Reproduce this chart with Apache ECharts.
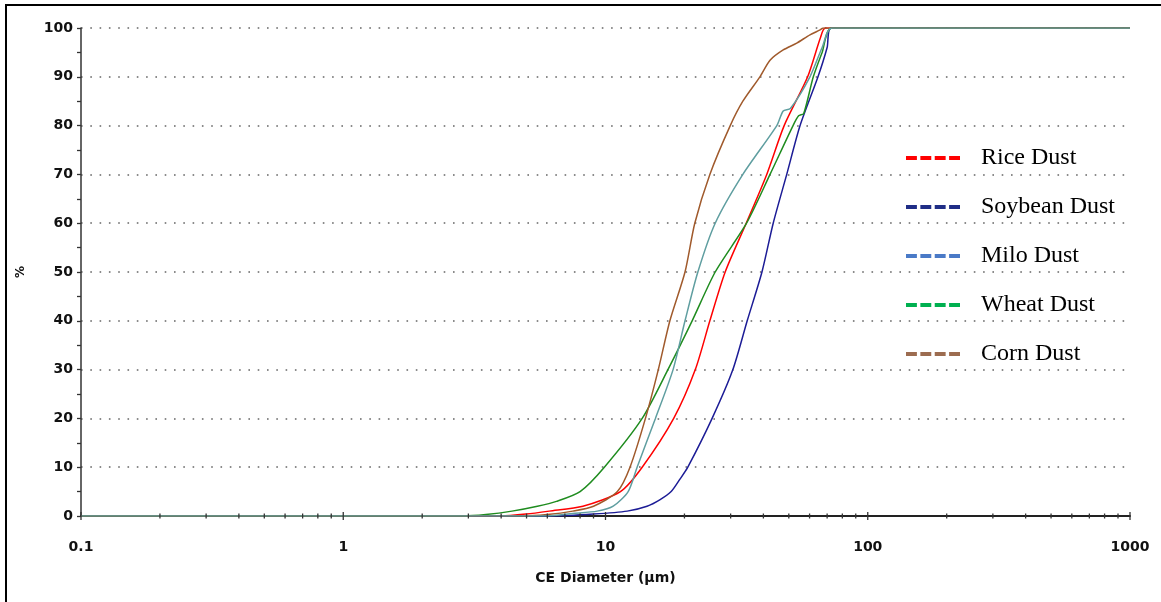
<!DOCTYPE html>
<html>
<head>
<meta charset="utf-8">
<script src="https://cdn.jsdelivr.net/npm/echarts@6/dist/echarts.min.js"></script>
<style>
html,body{margin:0;padding:0;background:#fff;}
#chart{position:absolute;left:0;top:0;width:1161px;height:602px;}
#frame{position:absolute;left:5px;top:4px;width:1161px;height:602px;border-top:2px solid #000;border-left:2px solid #000;pointer-events:none;}
</style>
</head>
<body>
<div id="chart"></div>
<div id="frame"></div>
<script>
// ---- data ----
const seriesNames = ['Rice Dust', 'Soybean Dust', 'Milo Dust', 'Wheat Dust', 'Corn Dust'];

const riceX = [0.1, 4.0, 5.0, 6.1, 8.2, 11.4, 13.8, 18.2, 22.0, 25.0, 28.6, 34.4, 41.2, 48.0, 59.0, 66.0, 69.0, 1000];
const riceY = [0, 0, 0.4, 1, 2, 5, 10, 20, 30, 40, 50, 60, 70, 80, 90, 98, 100, 100];

const soyX = [0.1, 6.3, 9.0, 12.1, 14.4, 16.1, 17.8, 19.2, 20.6, 25.5, 30.6, 34.7, 39.5, 43.6, 49.1, 55.2, 64.6, 70.0, 72.5, 1000];
const soyY = [0, 0, 0.4, 1, 2, 3.3, 5, 7.5, 10, 20, 30, 40, 50, 60, 70, 80, 90, 96, 100, 100];

const miloX = [0.1, 6.0, 7.5, 9.3, 10.7, 12.2, 13.2, 15.5, 18.1, 20.1, 22.5, 26.2, 33.4, 45.0, 47.6, 50.7, 60.2, 67.0, 73.0, 1000];
const miloY = [0, 0, 0.5, 1, 2, 5, 10, 20, 30, 40, 50, 60, 70, 80, 83, 83.5, 90, 96, 100, 100];

const wheatX = [0.1, 2.87, 3.5, 4.4, 5.5, 6.5, 8.0, 9.9, 13.8, 17.3, 21.4, 26.2, 34.5, 42.4, 51.9, 54.5, 57.0, 62.0, 67.0, 73.0, 1000];
const wheatY = [0, 0, 0.3, 1, 2, 3, 5, 10, 20, 30, 40, 50, 60, 70, 80, 82, 82.5, 90, 95, 100, 100];

const cornX = [0.1, 4.8, 6.0, 7.5, 9.0, 11.1, 12.4, 14.2, 15.9, 17.6, 20.1, 21.9, 25.0, 29.9, 33.4, 38.8, 42.4, 47.6, 53.6, 60.2, 65.8, 67.6, 1000];
const cornY = [0, 0, 0.3, 1, 2, 5, 10, 20, 30, 40, 50, 60, 70, 80, 85, 90, 93.4, 95.5, 96.9, 98.6, 99.6, 100, 100];

const xMajorTicks = [0.1, 1, 10, 100, 1000];
const xMinorTicks = [0.2, 0.3, 0.4, 0.5, 0.6, 0.7, 0.8, 0.9,
                     2, 3, 4, 5, 6, 7, 8, 9,
                     20, 30, 40, 50, 60, 70, 80, 90,
                     200, 300, 400, 500, 600, 700, 800, 900];

const curveColors = { 'Rice Dust': '#ff0000', 'Soybean Dust': '#1c1c96', 'Milo Dust': '#5f9ea0', 'Wheat Dust': '#1f8c1f', 'Corn Dust': '#a05a2c' };
const legendColors = { 'Rice Dust': '#ff0000', 'Soybean Dust': '#1f2d86', 'Milo Dust': '#4a7ac7', 'Wheat Dust': '#00b050', 'Corn Dust': '#9c6c50' };

function pairs(xs, ys) { return xs.map((x, i) => [x, ys[i]]); }
const seriesData = {
  'Rice Dust': pairs(riceX, riceY),
  'Soybean Dust': pairs(soyX, soyY),
  'Milo Dust': pairs(miloX, miloY),
  'Wheat Dust': pairs(wheatX, wheatY),
  'Corn Dust': pairs(cornX, cornY)
};

const dashIcon = 'path://M0,0h11v4h-11z M14.5,0h11v4h-11z M29,0h11v4h-11z M43.5,0h11v4h-11z';
const drawOrder = ['Rice Dust', 'Soybean Dust', 'Wheat Dust', 'Corn Dust', 'Milo Dust'];

const chart = echarts.init(document.getElementById('chart'), null, { renderer: 'canvas' });

const lineSeries = drawOrder.map(n => ({
  name: n,
  type: 'line',
  data: seriesData[n],
  showSymbol: false,
  symbol: 'none',
  smooth: 0.25,
  lineStyle: { color: curveColors[n], width: 1.5 },
  itemStyle: { color: curveColors[n] },
  animation: false,
  z: 3
}));

function tickSeries(vals, half) {
  return {
    type: 'custom',
    silent: true,
    animation: false,
    z: 5,
    data: vals.map(v => [v, half]),
    renderItem: function (params, api) {
      const p = api.coord([api.value(0), 0]);
      const h = api.value(1);
      return {
        type: 'line',
        shape: { x1: p[0], y1: p[1] - h, x2: p[0], y2: p[1] + h },
        style: { stroke: '#333', lineWidth: 1.3 }
      };
    }
  };
}

const option = {
  backgroundColor: '#fff',
  animation: false,
  grid: { left: 81, right: 31, top: 28, bottom: 86, containLabel: false },
  legend: {
    orient: 'vertical',
    left: 906,
    top: 146,
    padding: 0,
    itemWidth: 54,
    itemHeight: 4,
    itemGap: 25,
    selectedMode: false,
    textStyle: { fontFamily: 'Liberation Serif', fontSize: 24, color: '#000', lineHeight: 24, padding: [0, 0, 0, 16] },
    data: seriesNames.map(n => ({ name: n, icon: dashIcon, itemStyle: { color: legendColors[n], borderWidth: 0 } }))
  },
  xAxis: {
    type: 'log',
    logBase: 10,
    min: 0.1,
    max: 1000,
    name: 'CE Diameter (µm)',
    nameLocation: 'middle',
    nameGap: 55,
    nameTextStyle: { fontFamily: 'DejaVu Sans', fontWeight: 'bold', fontSize: 14, color: '#111' },
    axisLine: { lineStyle: { color: '#222', width: 2 } },
    axisTick: { show: false },
    minorTick: { show: false },
    splitLine: { show: false },
    axisLabel: {
      fontFamily: 'DejaVu Sans', fontWeight: 'bold', fontSize: 14, color: '#111', margin: 24,
      formatter: v => String(v)
    }
  },
  yAxis: {
    type: 'value',
    min: 0,
    max: 100,
    interval: 10,
    name: '%',
    nameLocation: 'middle',
    nameGap: 54,
    nameRotate: 90,
    nameTextStyle: { fontFamily: 'DejaVu Sans', fontWeight: 'bold', fontSize: 12, color: '#111' },
    axisLine: { show: true, lineStyle: { color: '#333', width: 1.5 } },
    axisTick: { show: true, length: 4, lineStyle: { color: '#333', width: 1.3 } },
    minorTick: { show: true, splitNumber: 2, length: 4, lineStyle: { color: '#333', width: 1.3 } },
    splitLine: { show: true, lineStyle: { color: '#666', width: 1.6, type: [1.6, 7.7] } },
    axisLabel: { fontFamily: 'DejaVu Sans', fontWeight: 'bold', fontSize: 14, color: '#111', margin: 8 }
  },
  series: lineSeries.concat([tickSeries(xMajorTicks, 4), tickSeries(xMinorTicks, 2.5)])
};

chart.setOption(option);
</script>
</body>
</html>
